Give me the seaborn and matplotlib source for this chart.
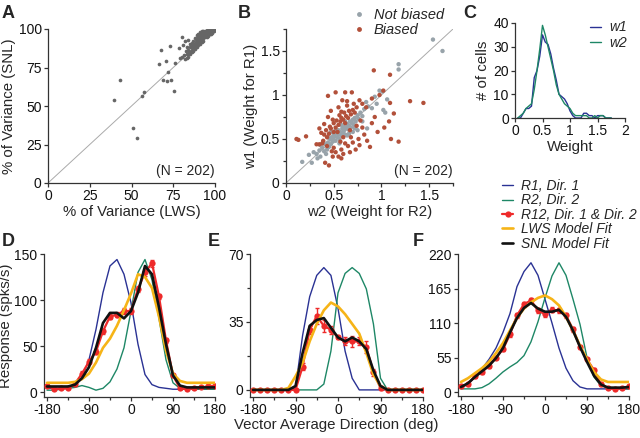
import numpy as np
import pandas as pd
import matplotlib
matplotlib.use("Agg")
import matplotlib.pyplot as plt
from matplotlib.lines import Line2D
from matplotlib.ticker import MultipleLocator, FuncFormatter
import seaborn as sns

sns.set_style("ticks")
plt.rcParams['font.family'] = ['Liberation Sans', 'DejaVu Sans']
plt.rcParams['font.size'] = 10
plt.rcParams['axes.unicode_minus'] = False
plt.rcParams['axes.linewidth'] = 0.9
plt.rcParams['axes.edgecolor'] = '#333333'
plt.rcParams['xtick.major.size'] = 3
plt.rcParams['ytick.major.size'] = 3
plt.rcParams['xtick.minor.size'] = 2
plt.rcParams['ytick.minor.size'] = 2
plt.rcParams['xtick.color'] = '#333333'
plt.rcParams['ytick.color'] = '#333333'
plt.rcParams['xtick.labelcolor'] = '#111111'
plt.rcParams['ytick.labelcolor'] = '#111111'

NAVY = "#2a3294"
TEAL = "#1e8766"
RED = "#ee2a2a"
GOLD = "#f6b417"
BLACK = "#111111"
TICK_FS = 10
LABEL_FS = 10.8

# ---------------- Panel A: % variance SNL vs LWS ----------------
lws_var = [39.5, 43, 51, 53, 56.5, 57.7, 66.3, 67.9, 70.7, 69, 71.7, 71.5, 73.5, 75.4, 72.9,
           76, 78.6, 80, 81, 79, 82, 84,
           80.5, 81.5, 82, 82.5, 83, 83.5, 84, 84, 84.5, 85, 85, 85.5, 86, 86, 86.5, 87, 87,
           87.5, 88, 88, 88.5, 89, 89, 89, 89.5, 90, 90, 90, 90.5, 91, 91, 91, 91.5, 91.5,
           92, 92, 92, 92.5, 92.5, 93, 93, 93, 93.5, 93.5, 94, 94, 94, 94.5, 94.5, 95, 95,
           95, 95, 95.5, 95.5, 96, 96, 96, 96.5, 96.5, 96.5, 97, 97, 97.5, 97.5, 97.5, 98,
           98, 98.5, 98.5, 99, 99, 99.5, 88, 90, 86, 84, 92, 93, 89.5, 87, 91, 83, 85,
           94, 95.5, 96.8, 97.2, 98.2, 99.3, 93.8, 92.8, 91.8, 90.8, 89.8, 88.8, 97.8, 96.2]
snl_var = [53.9, 66.7, 36, 29, 56.5, 59, 77.5, 86.4, 79, 66.9, 71.9, 66.2, 66.7, 59.7, 88.7,
           78, 87.4, 95, 89.6, 81, 92, 93,
           81.5, 83, 80.5, 86, 84, 88, 82, 86.5, 85, 88, 90, 86, 87.5, 91, 89, 88, 92.5,
           90, 89, 94, 91.5, 90, 93, 96, 92, 91, 94.5, 97, 93, 92, 95, 98, 94, 96.5,
           93, 95.5, 98.5, 94.5, 97, 94, 96, 99, 95, 97.5, 94.5, 96.5, 98.5, 95.5, 97.5, 95, 96.5,
           98, 99.5, 96, 97.5, 95.5, 97, 98.5, 96.5, 98, 99.5, 97, 98.5, 96.5, 98, 99.5, 97.5,
           99, 98, 99.5, 98.5, 99.5, 99, 87, 89.5, 85, 83.5, 91.5, 92.5, 88, 86, 90, 81, 83.5,
           97, 99, 99, 98, 99.8, 99.8, 97.8, 96.8, 96, 95.8, 94.8, 93.5, 98.8, 99.2]

# ---------------- Panel B: w1 vs w2 ----------------
w2_unbiased = [0.17, 0.24, 0.27, 0.32, 0.35, 0.36, 0.38, 0.40, 0.41, 0.42, 0.43, 0.44, 0.45, 0.46,
               0.47, 0.48, 0.49, 0.50, 0.50, 0.51, 0.52, 0.53, 0.54, 0.55, 0.55, 0.56, 0.57, 0.58,
               0.59, 0.60, 0.60, 0.61, 0.62, 0.63, 0.64, 0.65, 0.66, 0.67, 0.68, 0.69, 0.70, 0.71,
               0.72, 0.73, 0.75, 0.76, 0.78, 0.80, 0.82, 0.84, 0.86, 0.90, 0.93, 0.98, 1.01, 1.04,
               1.06, 1.18, 1.18, 1.54, 1.64, 0.85, 0.75, 0.58, 0.52, 0.62, 0.47, 0.44, 0.39, 0.36,
               0.33, 0.29, 0.70, 0.66, 0.80, 0.95, 1.02, 0.56, 0.64, 0.72]
w1_unbiased = [0.24, 0.32, 0.23, 0.33, 0.37, 0.30, 0.40, 0.36, 0.44, 0.33, 0.38, 0.46, 0.41, 0.50,
               0.44, 0.52, 0.47, 0.49, 0.55, 0.53, 0.48, 0.57, 0.52, 0.55, 0.60, 0.50, 0.58, 0.54,
               0.62, 0.57, 0.64, 0.60, 0.55, 0.63, 0.67, 0.61, 0.65, 0.70, 0.63, 0.68, 0.72, 0.66,
               0.74, 0.70, 0.77, 0.73, 0.80, 0.76, 0.84, 0.92, 0.87, 0.85, 0.98, 1.05, 1.04, 0.80,
               0.95, 1.35, 1.29, 1.63, 1.50, 0.62, 0.60, 0.66, 0.60, 0.70, 0.58, 0.52, 0.47, 0.43,
               0.28, 0.35, 0.58, 0.56, 0.70, 0.90, 0.83, 0.45, 0.54, 0.62]
w2_biased = [0.11, 0.13, 0.21, 0.32, 0.35, 0.38, 0.41, 0.45, 0.49, 0.44, 0.52, 0.62, 0.69, 0.59,
             0.64, 0.92, 1.09, 1.30, 1.44, 1.18, 1.10, 1.03, 1.13, 1.09, 0.77, 0.88, 0.93, 0.77,
             0.49, 0.44, 0.46, 0.40, 0.42, 0.45, 0.47, 0.50, 0.52, 0.53, 0.55, 0.56, 0.57, 0.58,
             0.60, 0.61, 0.62, 0.63, 0.65, 0.66, 0.68, 0.70, 0.72, 0.74, 0.78, 0.80, 0.84, 0.90,
             0.98, 1.02, 0.50, 0.52, 0.55, 0.58, 0.60, 0.62, 0.65, 0.67, 0.70, 0.73, 0.76, 0.82,
             0.85, 0.58, 0.48, 0.43, 0.39, 0.37, 0.47, 0.55, 0.58, 0.64, 0.71, 0.35, 0.50, 0.54,
             0.67, 0.74, 0.80, 0.90, 0.96, 1.08, 0.43, 0.60, 0.68, 0.40, 0.57]
w1_biased = [0.50, 0.49, 0.53, 0.44, 0.44, 0.45, 0.23, 0.20, 0.30, 0.99, 1.03, 1.03, 1.03, 0.94,
             0.93, 1.28, 1.23, 0.93, 0.91, 0.47, 0.50, 0.63, 0.79, 0.91, 0.43, 0.41, 0.75, 0.94,
             0.72, 0.75, 0.64, 0.55, 0.60, 0.56, 0.62, 0.68, 0.63, 0.71, 0.66, 0.77, 0.70, 0.74,
             0.72, 0.80, 0.68, 0.76, 0.74, 0.82, 0.78, 0.83, 0.80, 0.86, 0.71, 0.90, 0.86, 0.96,
             1.00, 1.05, 0.40, 0.35, 0.30, 0.38, 0.33, 0.45, 0.42, 0.35, 0.46, 0.38, 0.50, 0.55,
             0.48, 0.28, 0.36, 0.42, 0.48, 0.57, 0.82, 0.86, 0.81, 0.88, 0.90, 0.62, 0.58, 0.58,
             0.60, 0.65, 0.63, 0.68, 0.58, 0.70, 0.52, 0.52, 0.52, 0.67, 0.47]

# ---------------- Panel C: weight distributions ----------------
weight_bins = [0.05, 0.1, 0.15, 0.2, 0.25, 0.3, 0.35, 0.4, 0.45, 0.5, 0.55, 0.6, 0.65, 0.7,
               0.75, 0.8, 0.85, 0.9, 0.95, 1.0, 1.05, 1.1, 1.15, 1.2, 1.25, 1.3, 1.35, 1.4,
               1.45, 1.5, 1.55, 1.6, 1.65, 1.7, 1.75]
w1_counts = [0, 0, 2, 4, 4, 5, 17, 20, 26, 35, 32, 31, 27, 21, 16, 10, 9, 8, 6, 3,
             1, 0, 0, 0, 2, 2, 1, 1, 0, 1, 1, 1, 0, 0, 0]
w2_counts = [0, 1, 2, 4, 5, 6, 12, 20, 29, 39, 35, 30, 25, 20, 14, 10, 8, 6, 5, 4,
             2, 1, 1, 1, 1, 1, 0, 0, 1, 0, 1, 1, 0, 0, 0]

# ---------------- Panels D-F: tuning curves ----------------
directions = list(range(-180, 181, 15))

r1_D = [4, 4, 4, 5, 7, 16, 35, 68, 108, 137, 144, 128, 97, 52, 19, 8, 5, 4, 3, 3, 3, 3, 3, 3, 3]
r2_D = [2, 2, 3, 4, 5, 7, 5, 2, 4, 11, 25, 48, 88, 130, 144, 122, 80, 35, 10, 4, 3, 3, 3, 3, 3]
r12_D = [7, 3, 4, 4, 9, 20, 33, 44, 66, 82, 84, 88, 88, 112, 130, 140, 104, 56, 18, 4, 3, 4, 5, 6, 7]
r12_D_err = [2, 1, 1, 1, 2, 3, 3, 3, 3, 3, 3, 3, 3, 3, 4, 4, 3, 3, 2, 1, 1, 1, 1, 1, 2]
lws_D = [10, 10, 10, 10, 11, 14, 20, 32, 48, 58, 72, 89, 107, 128, 125, 113, 82, 45, 20, 12, 10, 10, 10, 10, 10]
snl_D = [6, 6, 6, 6, 8, 15, 27, 48, 75, 86, 86, 80, 88, 108, 137, 128, 92, 52, 18, 7, 5, 5, 5, 5, 5]

r1_E = [0, 0, 0, 0, 0, 0, 1, 28, 48, 59, 63, 59, 42, 20, 6, 0, 0, 0, 0, 0, 0, 0, 0, 0, 0]
r2_E = [0, 0, 0, 0, 0, 0, 0, 0, 0, 0, 3, 20, 50, 60, 63, 60, 52, 34, 6, 0, 0, 0, 0, 0, 0]
r12_E = [0, 0, 0, 0, 0, 0, 0, 12, 31, 38, 33, 31, 27, 25, 25, 25, 22, 9, 1, 0, 0, 0, 0, 0, 0]
r12_E_err = [0, 0, 0, 0, 0, 0, 0, 2, 2, 4, 3, 2, 1, 2, 3, 2, 3, 2, 1, 0, 0, 0, 0, 0, 0]
lws_E = [0, 0, 0, 0, 0, 1, 7, 14, 25, 34, 41, 45, 43, 39, 34, 29, 19, 8, 2, 0, 0, 0, 0, 0, 0]
snl_E = [0, 0, 0, 0, 0, 0, 2, 19, 33, 36, 37, 32, 27, 25, 27, 25, 21, 10, 2, 0, 0, 0, 0, 0, 0]

r1_F = [6, 13, 24, 37, 52, 70, 95, 125, 168, 192, 206, 186, 148, 110, 70, 38, 18, 8, 5, 5, 5, 5, 5, 5, 5]
r2_F = [5, 5, 5, 7, 13, 22, 32, 40, 47, 58, 80, 112, 150, 185, 206, 186, 148, 108, 55, 24, 10, 6, 5, 5, 5]
r12_F = [9, 12, 26, 32, 42, 55, 68, 92, 122, 140, 146, 130, 124, 131, 130, 122, 100, 72, 52, 35, 12, 6, 5, 6, 9]
r12_F_err = [2, 2, 3, 3, 3, 3, 3, 4, 4, 4, 4, 4, 4, 4, 4, 4, 4, 3, 3, 3, 2, 2, 2, 2, 2]
lws_F = [16, 22, 30, 38, 48, 62, 78, 98, 118, 133, 143, 150, 154, 148, 138, 120, 98, 74, 52, 32, 20, 16, 16, 16, 16]
snl_F = [8, 14, 24, 33, 42, 54, 70, 95, 118, 134, 142, 133, 128, 128, 131, 120, 98, 72, 48, 26, 12, 7, 7, 7, 8]

W, H = 640, 438
fig = plt.figure(figsize=(W / 100, H / 100), dpi=100)


def axes_px(left, top, right, bottom):
    return fig.add_axes([left / W, 1 - bottom / H, (right - left) / W, (bottom - top) / H])


def style(ax):
    sns.despine(ax=ax)
    ax.tick_params(labelsize=TICK_FS, pad=1.5, width=0.9)
    ax.tick_params(which='minor', width=0.9)


fmt_g = FuncFormatter(lambda v, p: f"{v:g}")

# Panel A
axA = axes_px(48, 29, 215, 183)
axA.axline((0, 0), slope=1, color='#aaaaaa', lw=0.7, zorder=1)
sns.scatterplot(x=lws_var, y=snl_var, color='#666666', s=7, linewidth=0, ax=axA, zorder=3)
axA.set_xlim(0, 100)
axA.set_ylim(0, 100)
axA.set_xticks([0, 25, 50, 75, 100])
axA.set_yticks([0, 25, 50, 75, 100])
axA.set_xlabel("% of Variance (LWS)", fontsize=LABEL_FS, labelpad=1)
axA.set_ylabel("% of Variance (SNL)", fontsize=LABEL_FS, labelpad=2)
axA.text(1.0, 0.03, "(N = 202)", transform=axA.transAxes, ha='right', va='bottom', fontsize=TICK_FS)
style(axA)

# Panel B
dfB = pd.DataFrame({
    'w2': w2_unbiased + w2_biased,
    'w1': w1_unbiased + w1_biased,
    'group': ['Not biased'] * len(w2_unbiased) + ['Biased'] * len(w2_biased),
})
axB = axes_px(286, 29, 453, 183)
axB.axline((0, 0), slope=1, color='#aaaaaa', lw=0.7, zorder=1)
sns.scatterplot(data=dfB, x='w2', y='w1', hue='group',
                palette={'Not biased': '#98a3aa', 'Biased': '#b2503a'},
                s=10, linewidth=0, ax=axB, zorder=3, legend=False)
axB.set_xlim(0, 1.75)
axB.set_ylim(0, 1.75)
axB.xaxis.set_major_locator(MultipleLocator(0.5))
axB.yaxis.set_major_locator(MultipleLocator(0.5))
axB.xaxis.set_minor_locator(MultipleLocator(0.25))
axB.yaxis.set_minor_locator(MultipleLocator(0.25))
axB.xaxis.set_major_formatter(fmt_g)
axB.yaxis.set_major_formatter(fmt_g)
axB.set_xlabel("w2 (Weight for R2)", fontsize=LABEL_FS, labelpad=1)
axB.set_ylabel("w1 (Weight for R1)", fontsize=LABEL_FS, labelpad=2)
axB.text(1.0, 0.03, "(N = 202)", transform=axB.transAxes, ha='right', va='bottom', fontsize=TICK_FS)
style(axB)
hB = [Line2D([], [], ls='none', marker='o', ms=3.5, mew=0, color='#98a3aa'),
      Line2D([], [], ls='none', marker='o', ms=3.5, mew=0, color='#b2503a')]
fig.legend(hB, ['Not biased', 'Biased'], loc='upper left', bbox_to_anchor=(346 / W, 1 - 1 / H),
           frameon=False, prop={'style': 'italic', 'size': 10.5}, handlelength=0.8,
           handletextpad=0.6, labelspacing=0.05, borderpad=0)

# Panel C
dfC = pd.DataFrame({
    'weight': weight_bins * 2,
    'count': w1_counts + w2_counts,
    'which': ['w1'] * len(weight_bins) + ['w2'] * len(weight_bins),
})
axC = axes_px(515, 23, 625, 118)
sns.lineplot(data=dfC, x='weight', y='count', hue='which', palette={'w1': NAVY, 'w2': TEAL},
             lw=1.0, ax=axC, legend=False)
axC.set_xlim(0, 2)
axC.set_ylim(0, 40)
axC.set_xticks([0, 0.5, 1, 1.5, 2])
axC.xaxis.set_major_formatter(fmt_g)
axC.set_yticks([0, 10, 20, 30, 40])
axC.set_xlabel("Weight", fontsize=LABEL_FS, labelpad=1)
axC.set_ylabel("# of cells", fontsize=LABEL_FS, labelpad=2)
style(axC)
hC = [Line2D([], [], color=NAVY, lw=1.0), Line2D([], [], color=TEAL, lw=1.0)]
axC.legend(hC, ['w1', 'w2'], loc='upper left', bbox_to_anchor=(0.62, 1.1), frameon=False,
           prop={'style': 'italic', 'size': 10}, handlelength=0.8, handletextpad=0.6,
           labelspacing=0.1, borderpad=0)


# Panels D-F
def tuning(ax, r1, r2, r12, r12_err, lws, snl):
    df = pd.DataFrame({'dir': directions, 'r1': r1, 'r2': r2, 'r12': r12,
                       'lws': lws, 'snl': snl})
    sns.lineplot(data=df, x='dir', y='r1', color=NAVY, lw=1.0, ax=ax)
    sns.lineplot(data=df, x='dir', y='r2', color=TEAL, lw=1.0, ax=ax)
    ax.errorbar(directions, r12, yerr=r12_err, fmt='none', ecolor=RED, elinewidth=1.0,
                capsize=1.5, zorder=3)
    sns.lineplot(data=df, x='dir', y='r12', color=RED, lw=1.6, marker='o', ms=4.5,
                 mew=0, ax=ax, zorder=3)
    sns.lineplot(data=df, x='dir', y='lws', color=GOLD, lw=1.9, ax=ax, zorder=4)
    sns.lineplot(data=df, x='dir', y='snl', color=BLACK, lw=1.9, ax=ax, zorder=5)
    ax.set_xlim(-187, 180)
    ax.set_xticks([-180, -90, 0, 90, 180])
    ax.xaxis.set_minor_locator(MultipleLocator(45))
    ax.set_xlabel("")
    ax.set_ylabel("")
    style(ax)


axD = axes_px(43.7, 254, 215, 396.6)
tuning(axD, r1_D, r2_D, r12_D, r12_D_err, lws_D, snl_D)
axD.set_ylim(-5, 150)
axD.set_yticks([0, 50, 100, 150])
axD.set_ylabel("Response (spks/s)", fontsize=LABEL_FS, labelpad=1)

axE = axes_px(249.7, 254, 423, 396.7)
tuning(axE, r1_E, r2_E, r12_E, r12_E_err, lws_E, snl_E)
axE.set_ylim(-3.5, 70)
axE.set_yticks([0, 35, 70])
axE.yaxis.set_minor_locator(MultipleLocator(17.5))
axE.set_xlabel("Vector Average Direction (deg)", fontsize=LABEL_FS, labelpad=1)

axF = axes_px(457.7, 254, 629, 396.4)
tuning(axF, r1_F, r2_F, r12_F, r12_F_err, lws_F, snl_F)
axF.set_ylim(-7, 220)
axF.set_yticks([0, 55, 110, 165, 220])

hL = [Line2D([], [], color=NAVY, lw=1.0),
      Line2D([], [], color=TEAL, lw=1.0),
      Line2D([], [], color=RED, lw=1.6, marker='o', ms=4.5, mew=0),
      Line2D([], [], color=GOLD, lw=1.9),
      Line2D([], [], color=BLACK, lw=1.9)]
fig.legend(hL, ['R1, Dir. 1', 'R2, Dir. 2', 'R12, Dir. 1 & Dir. 2', 'LWS Model Fit', 'SNL Model Fit'],
           loc='upper left', bbox_to_anchor=(495 / W, 1 - 172 / H), frameon=False,
           prop={'style': 'italic', 'size': 10}, handlelength=0.8, handletextpad=0.6,
           labelspacing=0.03, borderpad=0)

# panel letters
for letter, x, y in [('A', 2, 13), ('B', 238, 14), ('C', 463, 13),
                     ('D', 2, 241), ('E', 208, 241), ('F', 413, 241)]:
    fig.text(x / W, 1 - y / H, letter, fontsize=13, fontweight='bold', va='center', ha='left')

fig.savefig("out.png", dpi=100)
